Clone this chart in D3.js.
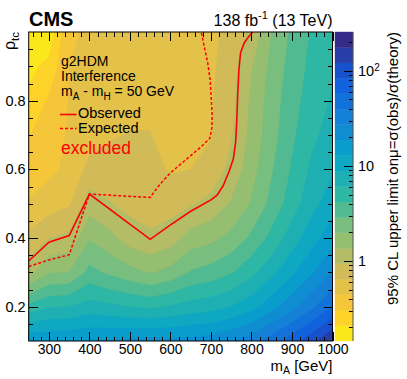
<!DOCTYPE html>
<html>
<head>
<meta charset="utf-8">
<script src="https://cdn.jsdelivr.net/npm/d3@7"></script>
<style>
  body { margin: 0; background: #fff; }
  svg text { font-family: "Liberation Sans", Arial, Helvetica, sans-serif; fill: #000; }
</style>
</head>
<body>
<svg width="407" height="379"></svg>
<script>
// Grid of the scan: m_A (GeV) columns, rho_tc rows.
const massA = [250, 300, 350, 400, 450, 500, 550, 600, 650, 700, 750, 800, 850, 900, 950, 1000];
const rhoTc = [0.1, 0.2, 0.3, 0.4, 0.5, 0.6, 0.7, 0.8, 0.9, 1.0];

// 95% CL upper limit on mu, one row per rho_tc value.
const muLimit = [
  [17.3, 17.3, 17.9, 18.6, 19.4, 20.1, 20.9, 20.1, 20.9, 22.5, 26.1, 32.7, 47.5, 69.1, 108, 176],
  [4.67, 5.85, 6.07, 7.05, 6.54, 6.07, 5.63, 6.30, 7.05, 7.59, 8.82, 11.1, 16.1, 24.2, 36.6, 57.3],
  [1.17, 1.90, 1.98, 3.21, 2.66, 2.21, 1.90, 2.21, 2.98, 3.33, 4.02, 5.42, 7.89, 11.9, 17.9, 27.1],
  [0.706, 0.934, 1.03, 1.90, 1.52, 1.13, 0.989, 1.13, 1.58, 1.77, 2.21, 3.09, 4.67, 7.31, 11.1, 16.1],
  [0.459, 0.533, 0.619, 1.13, 0.952, 0.835, 0.804, 0.804, 0.900, 1.05, 1.41, 2.05, 3.21, 5.03, 7.89, 10.6],
  [0.353, 0.410, 0.477, 0.720, 0.747, 0.747, 0.720, 0.619, 0.643, 0.720, 1.05, 1.70, 2.77, 4.34, 6.54, 8.49],
  [0.299, 0.367, 0.459, 0.553, 0.619, 0.655, 0.655, 0.514, 0.533, 0.631, 0.900, 1.52, 2.47, 3.87, 5.63, 7.05],
  [0.225, 0.320, 0.451, 0.477, 0.514, 0.574, 0.574, 0.486, 0.523, 0.619, 0.835, 1.46, 2.38, 3.59, 5.03, 6.30],
  [0.190, 0.230, 0.442, 0.468, 0.477, 0.495, 0.514, 0.477, 0.514, 0.596, 0.804, 1.31, 2.21, 3.33, 4.67, 5.85],
  [0.160, 0.162, 0.426, 0.459, 0.459, 0.477, 0.495, 0.477, 0.514, 0.574, 0.747, 1.01, 1.98, 3.09, 4.34, 5.42]
];

// Exclusion contours (m_A, rho_tc).
const observed = [
  [250, 0.333], [300, 0.388], [350, 0.407], [400, 0.528], [550, 0.396], [600, 0.438],
  [650, 0.478], [700, 0.511], [715, 0.525], [730, 0.552], [745, 0.595], [755, 0.630],
  [761, 0.680], [764, 0.750], [766, 0.820], [769, 0.890], [773, 0.940], [782, 0.968],
  [792, 0.985], [803, 1.0]
];
const expected = [
  [250, 0.317], [300, 0.336], [350, 0.351], [400, 0.528], [550, 0.518], [560, 0.535],
  [575, 0.558], [600, 0.590], [625, 0.615], [650, 0.640], [675, 0.665], [697, 0.690],
  [702, 0.720], [703, 0.754], [701, 0.800], [698, 0.860], [692, 0.910], [685, 0.948],
  [676, 1.0]
];

// Axis ticks.
const xTicks = [300, 400, 500, 600, 700, 800, 900, 1000];
const yTicks = [0.2, 0.4, 0.6, 0.8];
const zTicks = [1, 10, 100];
const zRange = [0.144, 256];
const nBands = 20;

// kBird palette stops (ROOT), used inverted.
const birdStops = [0.0, 0.125, 0.25, 0.375, 0.5, 0.625, 0.75, 0.875, 1.0];
const birdR = [0.2082, 0.0592, 0.0780, 0.0232, 0.1802, 0.5301, 0.8186, 0.9956, 0.9764];
const birdG = [0.1664, 0.3599, 0.5041, 0.6419, 0.7178, 0.7492, 0.7328, 0.7862, 0.9832];
const birdB = [0.5293, 0.8684, 0.8385, 0.7914, 0.6425, 0.4662, 0.3499, 0.1968, 0.0539];

let svg = d3.select("svg");

// Frame geometry.
let frameL = 28.7, frameR = 332.5, frameT = 32, frameB = 341;
let x = d3.scaleLinear().domain([250, 1000]).range([frameL, frameR]);
let y = d3.scaleLinear().domain([0.1, 1.0]).range([frameB, frameT]);
let z = d3.scaleLog().domain(zRange).range([frameB, frameT]);

let bird = d3.scaleLinear()
  .domain(birdStops)
  .range(birdStops.map((s, i) => d3.rgb(birdR[i] * 255, birdG[i] * 255, birdB[i] * 255)));

// Colour of contour band i, as ROOT picks it from a 255 colour inverted palette.
let band_colour = function (i) {
  let j = Math.floor((i + 0.99) * 255 / nBands);
  return bird((254 - j) / 254);
};

let logMin = Math.log10(zRange[0]), logMax = Math.log10(zRange[1]);
let levels = d3.range(nBands).map(i => logMin + i * (logMax - logMin) / nBands);

// Contour bands of log10(mu).
let flat = [];
muLimit.forEach(row => row.forEach(v => flat.push(Math.log10(v))));
let bands = d3.contours().size([massA.length, rhoTc.length]).thresholds(levels)(flat);

// Contour grid coordinates -> pixels (grid values sit at cell centres).
let gx = d3.scaleLinear().domain([0.5, massA.length - 0.5]).range([x(massA[0]), x(massA[massA.length - 1])]).clamp(true);
let gy = d3.scaleLinear().domain([0.5, rhoTc.length - 0.5]).range([y(rhoTc[0]), y(rhoTc[rhoTc.length - 1])]).clamp(true);
let gridPath = d3.geoPath(d3.geoTransform({
  point: function (px, py) { this.stream.point(gx(px), gy(py)); }
}));

svg.append("clipPath").attr("id", "frame")
  .append("rect").attr("x", frameL).attr("y", frameT).attr("width", frameR - frameL).attr("height", frameB - frameT);

svg.append("g").attr("clip-path", "url(#frame)")
  .selectAll("path")
  .data(bands)
  .join("path")
  .attr("d", gridPath)
  .attr("fill", (d, i) => band_colour(i))
  .attr("stroke", (d, i) => band_colour(i))
  .attr("stroke-width", 0.4);

// Exclusion lines.
let line = d3.line().x(d => x(d[0])).y(d => y(d[1]));
let lines = svg.append("g").attr("clip-path", "url(#frame)");
lines.append("path").attr("d", line(expected))
  .attr("fill", "none").attr("stroke", "#ff0000").attr("stroke-width", 1.5).attr("stroke-dasharray", "3,2");
lines.append("path").attr("d", line(observed))
  .attr("fill", "none").attr("stroke", "#ff0000").attr("stroke-width", 1.6);

// Axes: major and minor ticks on all four sides, pointing inwards.
let xMinor = d3.range(260, 1000, 20).filter(v => v % 100 != 0);
let yMinor = d3.range(0.15, 1.0, 0.05).filter(v => Math.abs(v * 5 - Math.round(v * 5)) > 0.01);

let add_axis = function (axis, tx, ty, withLabels) {
  let g = svg.append("g").attr("transform", `translate(${tx},${ty})`).call(axis);
  g.select(".domain").remove();
  g.selectAll(".tick line").attr("stroke", "#000").attr("shape-rendering", "crispEdges");
  g.selectAll(".tick text").attr("font-size", 14.5).attr("font-family", "Liberation Sans, Arial, sans-serif");
  if (!withLabels) g.selectAll(".tick text").remove();
  return g;
};

let xg = add_axis(d3.axisBottom(x).tickValues(xTicks).tickSize(-9).tickPadding(3).tickFormat(d3.format("d")), 0, frameB, true);
xg.selectAll(".tick text").attr("font-size", 14);
add_axis(d3.axisBottom(x).tickValues(xMinor).tickSize(-4.5), 0, frameB, false);
add_axis(d3.axisTop(x).tickValues(xTicks).tickSize(-9), 0, frameT, false);
add_axis(d3.axisTop(x).tickValues(xMinor).tickSize(-4.5), 0, frameT, false);

add_axis(d3.axisLeft(y).tickValues(yTicks).tickSize(-9).tickPadding(3).tickFormat(d3.format(".1f")), frameL, 0, true);
add_axis(d3.axisLeft(y).tickValues(yMinor).tickSize(-4.5), frameL, 0, false);
add_axis(d3.axisRight(y).tickValues(yTicks).tickSize(-9), frameR, 0, false);
add_axis(d3.axisRight(y).tickValues(yMinor).tickSize(-4.5), frameR, 0, false);

svg.append("rect")
  .attr("x", frameL).attr("y", frameT).attr("width", frameR - frameL).attr("height", frameB - frameT)
  .attr("fill", "none").attr("stroke", "#000").attr("stroke-width", 1);

// Colour bar.
let barLeft = 335, barRight = 353;
let edges = levels.concat([logMax]);
svg.append("g").selectAll("rect")
  .data(d3.range(nBands))
  .join("rect")
  .attr("x", barLeft)
  .attr("width", barRight - barLeft)
  .attr("y", i => z(Math.pow(10, edges[i + 1])))
  .attr("height", i => z(Math.pow(10, edges[i])) - z(Math.pow(10, edges[i + 1])))
  .attr("fill", i => band_colour(i))
  .attr("stroke", i => band_colour(i))
  .attr("stroke-width", 0.4);

let zMinor = [];
[0.1, 1, 10, 100].forEach(d => d3.range(2, 10).forEach(m => {
  let v = d * m;
  if (v >= zRange[0] && v <= zRange[1]) zMinor.push(v);
}));

let zg = add_axis(d3.axisRight(z).tickValues(zTicks).tickSize(-9).tickPadding(5).tickFormat(d => d == 100 ? "10" : String(d)), barRight, 0, true);
zg.selectAll(".tick text").filter(d => d == 100)
  .append("tspan").attr("dy", "-0.45em").attr("font-size", 10).text("2");
add_axis(d3.axisRight(z).tickValues(zMinor).tickSize(-4.5), barRight, 0, false);

svg.append("line")
  .attr("x1", barRight).attr("x2", barRight).attr("y1", frameT).attr("y2", frameB)
  .attr("stroke", "#555").attr("stroke-width", 1);

// Titles and labels.
svg.append("text").attr("x", 29).attr("y", 26)
  .attr("font-size", 20).attr("font-weight", "bold").text("CMS");

let lumi = svg.append("text").attr("x", frameR).attr("y", 25.5).attr("text-anchor", "end").attr("font-size", 16);
lumi.append("tspan").text("138 fb");
lumi.append("tspan").attr("dy", -6.5).attr("font-size", 11).text("-1");
lumi.append("tspan").attr("dy", 6.5).text(" (13 TeV)");

let xt = svg.append("text").attr("x", frameR).attr("y", 370.5).attr("text-anchor", "end").attr("font-size", 15);
xt.append("tspan").text("m");
xt.append("tspan").attr("dy", 3.5).attr("font-size", 10.5).text("A");
xt.append("tspan").attr("dy", -3.5).text(" [GeV]");

let yt = svg.append("text").attr("transform", "translate(15,32) rotate(-90)")
  .attr("text-anchor", "end").attr("font-size", 16);
yt.append("tspan").text("ρ");
yt.append("tspan").attr("dy", 4).attr("font-size", 11.5).text("tc");

svg.append("text").attr("transform", "translate(398,32) rotate(-90)")
  .attr("text-anchor", "end").attr("font-size", 15)
  .text("95% CL upper limit onμ=σ(obs)/σ(theory)");

// Legend.
let legX = 61;
svg.append("text").attr("x", legX).attr("y", 65.5).attr("font-size", 14).text("g2HDM");
svg.append("text").attr("x", legX).attr("y", 81).attr("font-size", 14).text("Interference");
let mass = svg.append("text").attr("x", legX).attr("y", 96).attr("font-size", 14);
mass.append("tspan").text("m");
mass.append("tspan").attr("dy", 3.5).attr("font-size", 10).text("A");
mass.append("tspan").attr("dy", -3.5).text(" - m");
mass.append("tspan").attr("dy", 3.5).attr("font-size", 10).text("H");
mass.append("tspan").attr("dy", -3.5).text(" = 50 GeV");

svg.append("line").attr("x1", 60).attr("x2", 76.5).attr("y1", 114.5).attr("y2", 114.5)
  .attr("stroke", "#ff0000").attr("stroke-width", 1.6);
svg.append("text").attr("x", 78).attr("y", 117.5).attr("font-size", 14.5).text("Observed");
svg.append("line").attr("x1", 60).attr("x2", 76.5).attr("y1", 128.5).attr("y2", 128.5)
  .attr("stroke", "#ff0000").attr("stroke-width", 1.5).attr("stroke-dasharray", "3,2");
svg.append("text").attr("x", 78).attr("y", 133).attr("font-size", 14.5).text("Expected");

svg.append("text").attr("x", legX).attr("y", 153.5).attr("font-size", 17.5)
  .style("fill", "#ff0000").text("excluded");
</script>
</body>
</html>
